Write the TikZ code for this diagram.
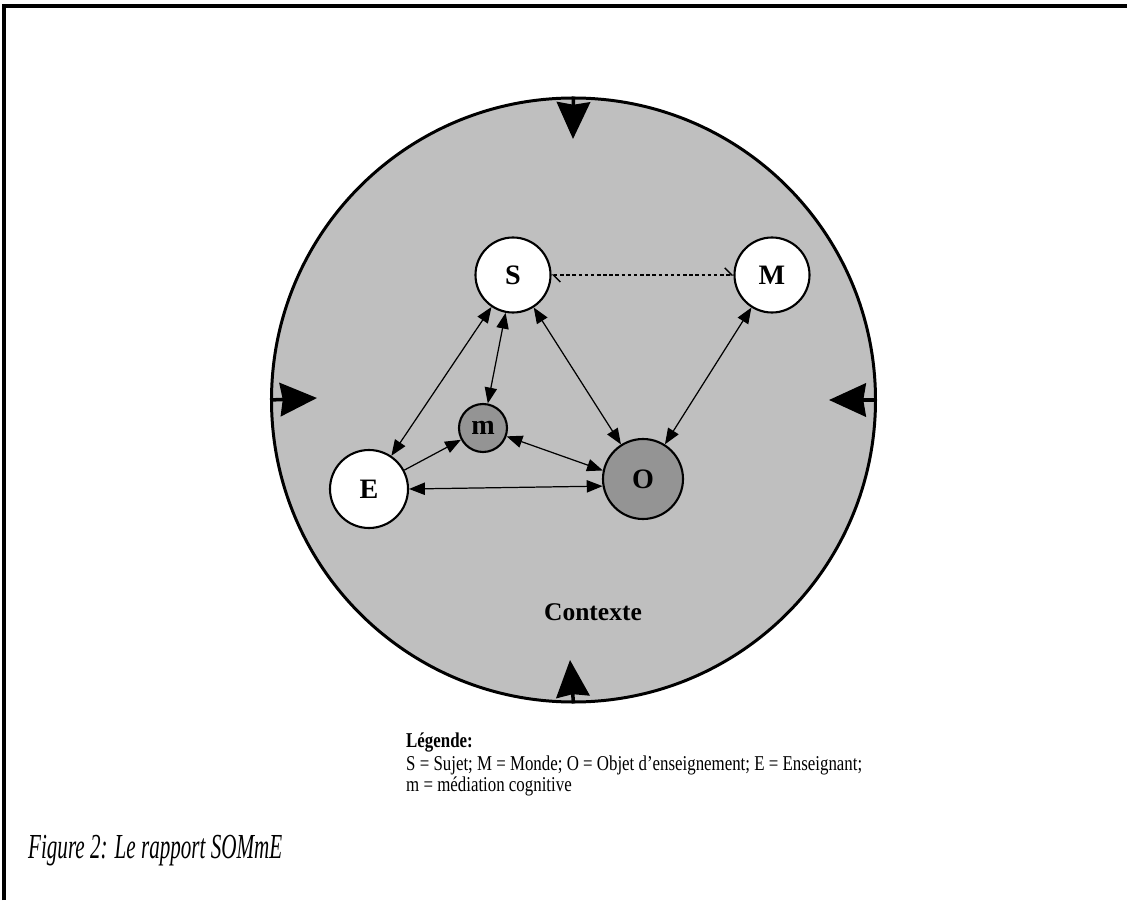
\documentclass[tikz,border=0pt]{standalone}
\usepackage{fontspec}
\setmainfont{Liberation Serif}
\newfontfamily\legfont[FakeStretch=0.8]{Liberation Serif}
\newfontfamily\capfont[FakeStretch=0.6]{Liberation Serif}
\usetikzlibrary{arrows.meta}
\begin{document}
\begin{tikzpicture}[>={Triangle[length=9pt,width=7pt]},
  ent/.style={circle,draw,line width=1.2pt,fill=white,inner sep=0pt,minimum size=1.5cm,font=\fontsize{16}{16}\selectfont\bfseries},
  med/.style={ent,fill=black!42},
  lien/.style={<->,line width=.7pt},
  pousse/.style={-{Stealth[length=21pt,width=19pt,inset=1.5pt]},line width=2pt}]
\useasboundingbox (0,0) rectangle (22.54,18);
\draw[line width=2.2pt] (0.08,0)--(0.08,17.88)--(22.54,17.88);
\node[circle,draw,line width=1.7pt,fill=black!25,minimum size=12.08cm] (ctx) at (11.47,10) {};
\coordinate (pn) at (11.46,15.22);
\coordinate (ps) at (11.40,4.8);
\coordinate (pw) at (6.34,10.04);
\coordinate (pe) at (16.58,10);
\draw[pousse] (ctx.north)--(pn);
\draw[pousse] (ctx.south)--(ps);
\draw[pousse] (ctx.west)--(pw);
\draw[pousse] (ctx.east)--(pe);

\node[ent] (S) at (10.26,12.5) {S};
\node[ent] (M) at (15.44,12.5) {M};
\node[ent,minimum size=1.56cm] (E) at (7.38,8.22) {E};
\node[med,minimum size=1.6cm] (O) at (12.86,8.42) {O};
\node[med,minimum size=.96cm] (m) at (9.66,9.44) {m};

\draw[lien] (S)--(E);
\draw[lien] (S)--(m);
\draw[lien] (S)--(O);
\draw[lien] (M)--(O);
\draw[->,line width=.7pt] (E)--(m);
\draw[lien] (m)--(O.168);
\draw[lien] (E.east)--(O.190);
\draw[line width=.8pt,dash pattern=on 2pt off 1.5pt,{Straight Barb[left,length=4pt]}-{Straight Barb[left,length=4pt]}] (S)--(M);

\node[font=\fontsize{14.5}{16}\selectfont\bfseries] (ctxlab) at (11.86,5.76) {Contexte};

\node[anchor=base west,font=\legfont\fontsize{12}{12}\selectfont\bfseries] (leg) at (8,3.06) {Légende:};
\node[anchor=base west,font=\legfont\fontsize{12}{12}\selectfont] (leg1) at (8,2.6) {S = Sujet; M = Monde; O = Objet d’enseignement; E = Enseignant;};
\node[anchor=base west,font=\legfont\fontsize{12}{12}\selectfont] (leg2) at (8,2.18) {m = médiation cognitive};
\node[anchor=base west,font=\capfont\fontsize{20}{22}\selectfont\itshape] (cap) at (0.44,0.84) {Figure 2: Le rapport SOMmE};
\end{tikzpicture}
\end{document}
